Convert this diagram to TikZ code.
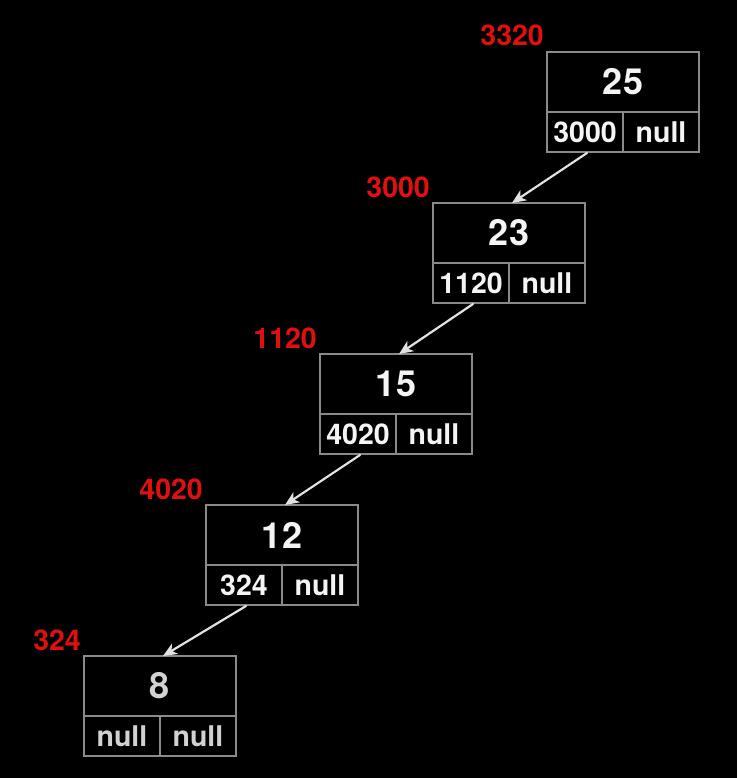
\documentclass[tikz,border=0pt]{standalone}
\usepackage{fontspec}
\setmainfont{TeX Gyre Heros}
\usetikzlibrary{arrows.meta}
\definecolor{boxgray}{HTML}{8A8A8A}
\definecolor{celltext}{HTML}{F4F4F4}
\definecolor{dimtext}{HTML}{D2D2D2}
\definecolor{addrred}{HTML}{E01010}
\definecolor{arrowgray}{HTML}{E2E2E2}
\newcommand\lnode[8]{% name, left, top, value, ptr-left, ptr-right, address, text colour
  \node[valcell, text=#8] (v#1) at (#2+76, #3+30) {#4};
  \node[ptrcell, text=#8] (p#1) at (#2+38, #3+80) {#5};
  \node[ptrcell, text=#8] (n#1) at (#2+114, #3+80) {#6};
  \node[addr] (a#1) at (#2-3, #3-6) {#7};
}
\begin{document}
\begin{tikzpicture}[x=1pt,y=-1pt,
  cell/.style={draw=boxgray, line width=1.5pt, inner sep=0pt, outer sep=0pt,
    font=\bfseries\fontsize{28.5}{30}\selectfont, text=celltext},
  valcell/.style={cell, minimum width=152pt, minimum height=60pt,
    font=\bfseries\fontsize{36}{40}\selectfont},
  ptrcell/.style={cell, minimum width=76pt, minimum height=40pt},
  addr/.style={text=addrred, font=\bfseries\fontsize{28.5}{30}\selectfont,
    anchor=base east, inner sep=0pt},
  link/.style={draw=arrowgray, line width=2.2pt, line cap=round,
    -{Stealth[length=14pt,width=12pt,inset=4pt]}}]
\fill[black] (0,0) rectangle (737,778);
\useasboundingbox (0,0) rectangle (737,778);
\lnode{25}{547}{52}{25}{3000}{null}{3320}{celltext}
\lnode{23}{433}{203}{23}{1120}{null}{3000}{celltext}
\lnode{15}{320}{354}{15}{4020}{null}{1120}{celltext}
\lnode{12}{206}{505}{12}{324}{null}{4020}{celltext}
\lnode{8}{84}{656}{8}{null}{null}{324}{dimtext}
\draw[link] ([xshift=2pt,yshift=-1pt]p25.south) -- ([xshift=3pt]v23.north);
\draw[link] ([xshift=2pt,yshift=-1pt]p23.south) -- ([xshift=3pt]v15.north);
\draw[link] ([xshift=2pt,yshift=-1pt]p15.south) -- ([xshift=3pt]v12.north);
\draw[link] ([xshift=2pt,yshift=-1pt]p12.south) -- ([xshift=3pt]v8.north);
\end{tikzpicture}
\end{document}
